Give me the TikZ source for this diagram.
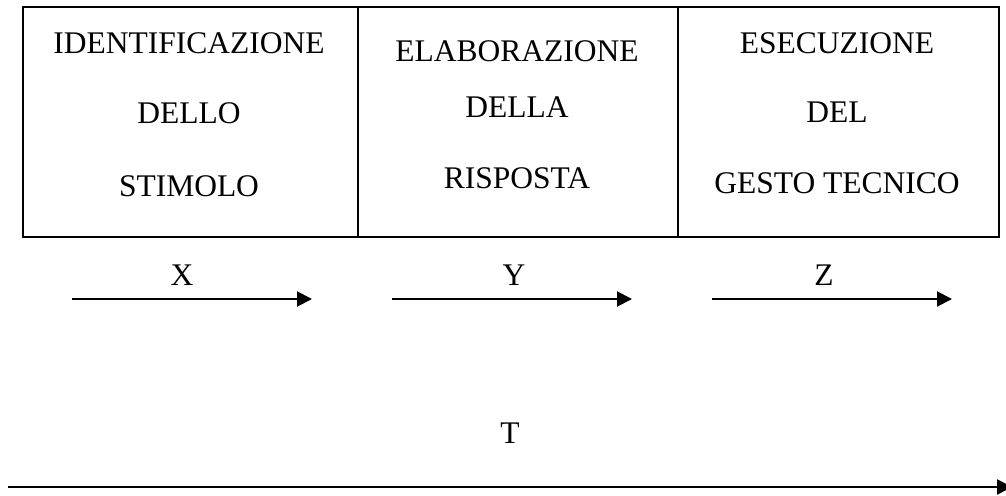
\documentclass[tikz,border=0pt]{standalone}
\usepackage{fontspec}
\setmainfont{Liberation Serif}
\usetikzlibrary{arrows.meta}

\tikzset{
  testo/.style={anchor=base, inner sep=0pt, font=\fontsize{31.5}{37}\selectfont},
  freccia/.style={line width=2pt, -{Triangle[length=15pt,width=15pt]}}
}

\begin{document}
\begin{tikzpicture}[x=1pt,y=-1pt]
    \useasboundingbox (0,0) rectangle (1006,495);

    % Riquadro delle tre fasi
    \draw[line width=2.5pt] (23,7) rectangle (999,237);
    \draw[line width=2.5pt] (358,7) -- (358,237);
    \draw[line width=2.5pt] (678,7) -- (678,237);

    % Fase 1
    \node[testo] (ident1) at (189,53) {IDENTIFICAZIONE};
    \node[testo] (ident2) at (189,123) {DELLO};
    \node[testo] (ident3) at (189,196) {STIMOLO};

    % Fase 2
    \node[testo] (elab1) at (517,62) {ELABORAZIONE};
    \node[testo] (elab2) at (517,117) {DELLA};
    \node[testo] (elab3) at (517,188) {RISPOSTA};

    % Fase 3
    \node[testo] (esec1) at (837,53) {ESECUZIONE};
    \node[testo] (esec2) at (837,122) {DEL};
    \node[testo] (esec3) at (837,193) {GESTO TECNICO};

    % Tempi parziali
    \node[testo] (lblX) at (182,285) {X};
    \node[testo] (lblY) at (514,285) {Y};
    \node[testo] (lblZ) at (824,285) {Z};
    \coordinate (xs) at (72,299);  \coordinate (xe) at (312,299);
    \coordinate (ys) at (392,299); \coordinate (ye) at (632,299);
    \coordinate (zs) at (712,299); \coordinate (ze) at (952,299);
    \draw[freccia] (xs) -- (xe);
    \draw[freccia] (ys) -- (ye);
    \draw[freccia] (zs) -- (ze);

    % Tempo totale
    \node[testo] (lblT) at (510,443) {T};
    \coordinate (ts) at (8,487); \coordinate (te) at (1012,487);
    \draw[freccia, line width=2.5pt] (ts) -- (te);
\end{tikzpicture}
\end{document}
